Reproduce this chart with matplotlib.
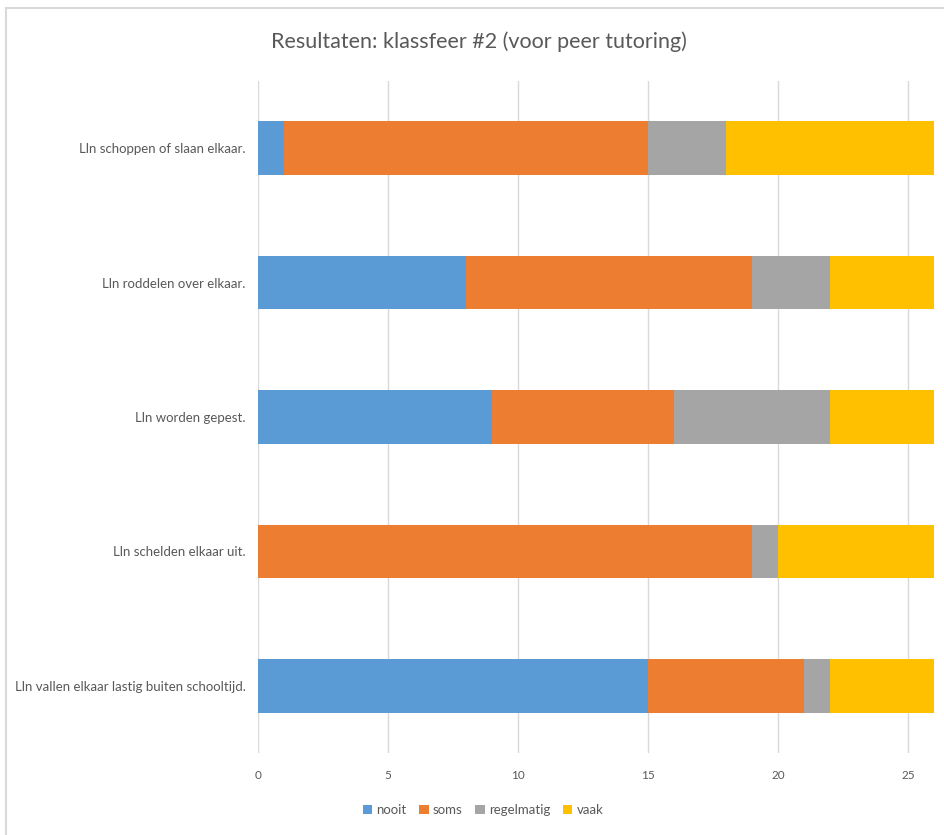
import matplotlib.pyplot as plt
import numpy as np

plt.rcParams['font.family'] = ['Lato', 'DejaVu Sans']

# statements, bottom to top
statements = [
    "Lln vallen elkaar lastig buiten schooltijd.",
    "Lln schelden elkaar uit.",
    "Lln worden gepest.",
    "Lln roddelen over elkaar.",
    "Lln schoppen of slaan elkaar.",
]
nooit = [15, 0, 9, 8, 1]
soms = [6, 19, 7, 11, 14]
regelmatig = [1, 1, 6, 3, 3]
vaak = [4, 6, 4, 4, 8]

series = [("nooit", nooit, '#5B9BD5'),
          ("soms", soms, '#ED7D31'),
          ("regelmatig", regelmatig, '#A5A5A5'),
          ("vaak", vaak, '#FFC000')]

fig = plt.figure(figsize=(9.44, 8.35), dpi=100)
ax = fig.add_axes([258/944, 1 - 753/835, (934-258)/944, (753-81)/835])

y = np.arange(len(statements))
left = np.zeros(len(statements))
for name, vals, col in series:
    ax.barh(y, vals, left=left, height=0.4, color=col, label=name, zorder=3)
    left += np.array(vals)

ax.set_xlim(0, 26)
ax.set_ylim(-0.5, len(statements) - 0.5)
ax.set_xticks(range(0, 26, 5))
ax.set_yticks(y)
ax.set_yticklabels(statements, fontsize=9.5)
ax.grid(axis='x', color='#d9d9d9', linewidth=1, zorder=0)
for s in ['top', 'right', 'bottom', 'left']:
    ax.spines[s].set_visible(False)
ax.tick_params(length=0, colors='#595959', pad=9)
ax.tick_params(axis='x', labelsize=8.5, pad=12)

fig.suptitle("Resultaten: klassfeer #2 (voor peer tutoring)", x=479/944, y=1 - 42/835,
             va='center', fontsize=15.5, color='#595959')

ax.legend(loc='center', bbox_to_anchor=(483/944, 1 - 810/835), bbox_transform=fig.transFigure,
          ncol=4, frameon=False, fontsize=9.5, handlelength=0.7, handleheight=0.7,
          handletextpad=0.3, columnspacing=1.0, labelcolor='#595959')

# thin chart border along the top and left
fig.add_artist(plt.Line2D([6/944, 1], [1 - 8/835, 1 - 8/835], color='#d9d9d9', lw=1.5))
fig.add_artist(plt.Line2D([6/944, 6/944], [0, 1 - 8/835], color='#d9d9d9', lw=1.5))

fig.savefig('out.png', dpi=100)
